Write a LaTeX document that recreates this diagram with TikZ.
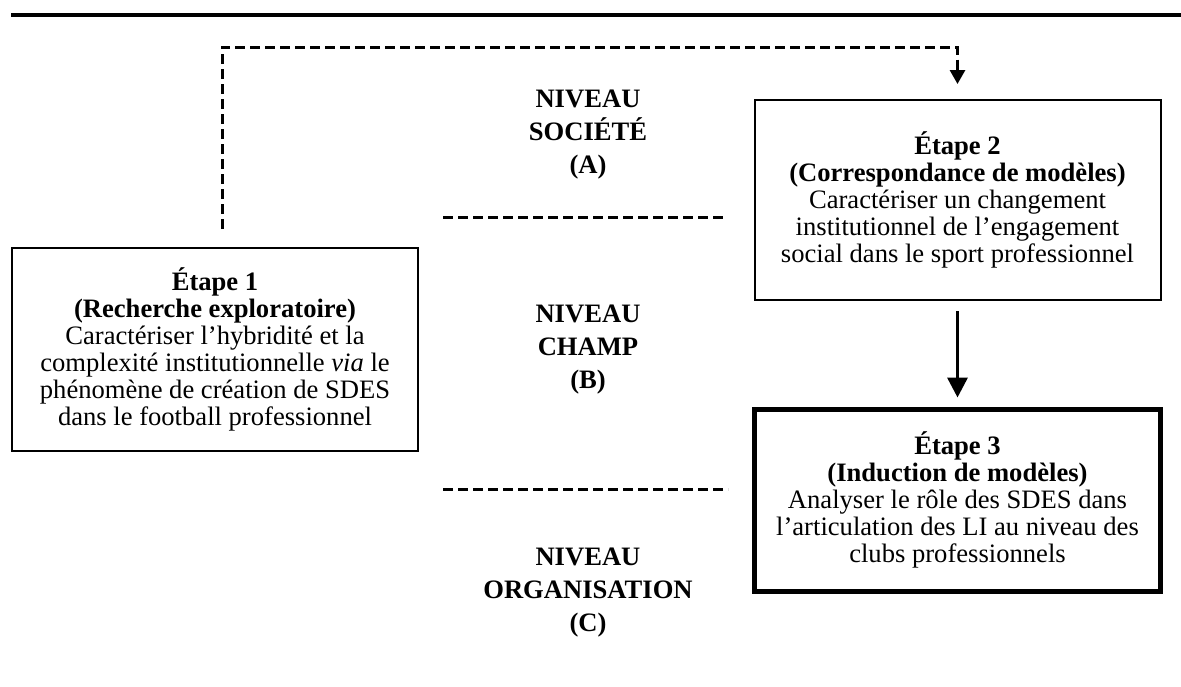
\documentclass[tikz,border=0pt]{standalone}
\usepackage{fontspec}
\setmainfont{Liberation Serif}
\usetikzlibrary{arrows.meta,positioning,calc}
\tikzset{
  etape/.style={draw=black,line width=1pt,minimum width=203pt,align=center,inner sep=0pt,
    font=\fontsize{13.3}{13.5}\selectfont},
  niveau/.style={align=center,font=\bfseries\fontsize{13.3}{16.5}\selectfont},
  sepline/.style={line width=1.5pt,dash pattern=on 5pt off 2.5pt},
}

\begin{document}
\begin{tikzpicture}[x=0.5pt,y=-0.5pt]
\useasboundingbox (0,0) rectangle (1181,686);
\draw[line width=2pt] (11,15) -- (1181,15);

\node[etape,minimum height=101.5pt] (etape1) at (215,349.5) {\textbf{Étape 1}\\\textbf{(Recherche exploratoire)}\\Caractériser l’hybridité et la\\complexité institutionnelle \textit{via} le\\phénomène de création de SDES\\dans le football professionnel};
\node[etape,minimum height=100pt] (etape2) at (957.5,200) {\textbf{Étape 2}\\\textbf{(Correspondance de modèles)}\\Caractériser un changement\\institutionnel de l’engagement\\social dans le sport professionnel};
\node[etape,line width=2.5pt,minimum height=91pt] (etape3) at (957.5,500) {\textbf{Étape 3}\\\textbf{(Induction de modèles)}\\Analyser le rôle des SDES dans\\l’articulation des LI au niveau des\\clubs professionnels};

\node[niveau] (societe) at (588,135) {NIVEAU\\SOCIÉTÉ\\(A)};
\node[niveau] (champ) at (588,350) {NIVEAU\\CHAMP\\(B)};
\node[niveau] (organisation) at (588,593) {NIVEAU\\ORGANISATION\\(C)};

%\node at (588,20) {levels};
\coordinate (sepAB1) at (443,217);
\coordinate (sepAB2) at (727,217);
\coordinate (sepBC1) at (443,489);
\coordinate (sepBC2) at (728,489);
\draw[sepline] (sepAB1) -- (sepAB2);
\draw[sepline] (sepBC1) -- (sepBC2);

\draw[sepline,-{Triangle[width=7.5pt,length=7pt]}] ([xshift=3.5pt,yshift=9pt]etape1.north) -- ++(0,-182) -| ([yshift=7.5pt]etape2.north);
\draw[line width=1.7pt,-{Triangle[width=10pt,length=10pt]}] ([yshift=-5pt]etape2.south) -- ([yshift=4.5pt]etape3.north);
\end{tikzpicture}
\end{document}
